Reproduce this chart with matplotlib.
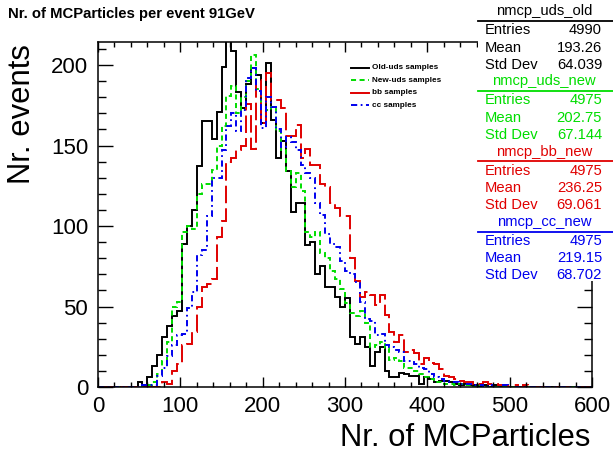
import numpy as np
import matplotlib
matplotlib.use("Agg")
import matplotlib.pyplot as plt
from matplotlib.lines import Line2D
from matplotlib.patches import Rectangle
from matplotlib.ticker import MultipleLocator

plt.rcParams['font.family'] = ['Liberation Sans', 'DejaVu Sans']

# ---- binning: 100 bins of 6 particles between 0 and 600 ----
bin_width = 6
bin_edges = np.arange(0, 600 + bin_width, bin_width)

# ---- per-bin event counts (first non-empty bin index + counts) ----
old_uds_first = 8
old_uds_counts = [3, 1, 6, 13, 20, 31, 38, 44, 47, 89, 100, 110, 137, 165, 165, 154, 171, 199,
                  216, 209, 183, 173, 188, 198, 194, 164, 201, 166, 142, 153, 134, 109, 114, 114,
                  88, 90, 70, 75, 62, 62, 56, 50, 55, 31, 27, 31, 25, 13, 22, 25, 10, 6, 6, 9, 8,
                  7, 7, 2, 6, 5, 3, 4, 4, 3, 2, 1, 2, 1, 1, 0, 1, 0, 1]

new_uds_first = 10
new_uds_counts = [1, 3, 8, 16, 28, 50, 53, 96, 100, 98, 120, 126, 126, 135, 150, 162, 181, 187,
                  170, 180, 190, 206, 185, 171, 172, 174, 159, 147, 134, 124, 133, 122, 96, 93,
                  96, 83, 80, 72, 67, 61, 52, 46, 44, 47, 40, 25, 26, 28, 24, 17, 18, 16, 12, 12,
                  10, 8, 6, 5, 3, 3, 2, 2, 1, 2, 1, 1, 0, 1]

bb_first = 13
bb_counts = [3, 2, 10, 14, 26, 27, 34, 50, 62, 64, 67, 93, 103, 140, 142, 147, 150, 176, 148,
             191, 164, 195, 178, 178, 173, 156, 156, 163, 142, 148, 138, 138, 126, 124, 114, 111,
             106, 106, 80, 66, 56, 59, 57, 51, 57, 45, 34, 28, 32, 22, 23, 21, 14, 18, 15, 14,
             11, 7, 6, 5, 4, 3, 3, 2, 2, 3, 2, 2, 1, 1, 0, 1, 0, 1]

cc_first = 9
cc_counts = [1, 1, 1, 7, 12, 19, 26, 32, 33, 49, 59, 82, 85, 106, 130, 130, 147, 162, 170, 159,
             172, 192, 198, 184, 161, 180, 174, 160, 149, 155, 152, 147, 138, 133, 130, 114, 107,
             95, 89, 87, 78, 72, 70, 65, 53, 42, 41, 32, 33, 26, 25, 23, 22, 16, 16, 14, 12, 11,
             8, 6, 5, 4, 3, 3, 2, 2, 2, 1, 1, 0, 1, 0, 0, 1]

legend_labels = ["Old-uds samples", "New-uds samples", "bb samples", "cc samples"]
hist_names = ["nmcp_uds_old", "nmcp_uds_new", "nmcp_bb_new", "nmcp_cc_new"]
stat_entries = ["4990", "4975", "4975", "4975"]
stat_means = ["193.26", "202.75", "236.25", "219.15"]
stat_stddevs = ["64.039", "67.144", "69.061", "68.702"]

x_ticks = [0, 100, 200, 300, 400, 500, 600]
y_ticks = [0, 50, 100, 150, 200]


def fill_bins(first, counts):
    h = np.zeros(len(bin_edges) - 1)
    h[first:first + len(counts)] = counts
    return h


series = [fill_bins(old_uds_first, old_uds_counts),
          fill_bins(new_uds_first, new_uds_counts),
          fill_bins(bb_first, bb_counts),
          fill_bins(cc_first, cc_counts)]

colors = ["#000000", "#00dd00", "#e00000", "#0000ee"]
styles = ["-", (0, (2.6, 1.8)), (0, (9.0, 2.6)), (0, (3.2, 1.8, 0.9, 1.8))]
legend_styles = ["-", (0, (2.6, 1.8)), "-", (0, (3.2, 1.8, 0.9, 1.8))]

W, H = 613, 454
fig = plt.figure(figsize=(W / 100, H / 100), dpi=100)
fig.patch.set_facecolor("white")


def fx(px):
    return px / W


def fy(py):
    return 1 - py / H


ax = fig.add_axes([fx(98), 1 - 387 / H, (592 - 98) / W, (387 - 42) / H])

for h, c, ls in zip(series, colors, styles):
    ax.stairs(h, bin_edges, color=c, linestyle=ls, linewidth=1.4, baseline=None)

ax.set_xlim(0, 600)
ax.set_ylim(0, 214.3)
ax.set_xticks(x_ticks)
ax.set_yticks(y_ticks)
ax.xaxis.set_minor_locator(MultipleLocator(20))
ax.yaxis.set_minor_locator(MultipleLocator(10))
ax.tick_params(axis="both", which="both", direction="in", top=True, right=True,
               width=1.0, color="black")
ax.tick_params(axis="x", which="major", length=7.5, pad=6.5, labelsize=16)
ax.tick_params(axis="x", which="minor", length=3.8)
ax.tick_params(axis="y", which="major", length=11, pad=7, labelsize=16)
ax.tick_params(axis="y", which="minor", length=5.8)
for sp in ax.spines.values():
    sp.set_linewidth(1.1)

# axis titles aligned to the axis ends
fig.text(fx(590), fy(438), "Nr. of MCParticles", ha="right", va="center", fontsize=22.3)
fig.text(fx(22), fy(44), "Nr. events", ha="center", va="top", rotation=90, fontsize=22.3)

# canvas title
fig.text(fx(8), fy(14), "Nr. of MCParticles per event 91GeV", ha="left", va="center",
         fontsize=10.7, fontweight="bold")

# legend
leg_rows = [67.7, 80.2, 92.7, 105.2]
for lab, c, ls, yy in zip(legend_labels, colors, legend_styles, leg_rows):
    fig.add_artist(Line2D([fx(351), fx(369)], [fy(yy), fy(yy)], color=c, linestyle=ls,
                          linewidth=1.4, transform=fig.transFigure))
    fig.text(fx(372), fy(yy), lab, ha="left", va="center", fontsize=5.9, fontweight="bold")

# statistics boxes
fig.add_artist(Rectangle((fx(478), fy(281)), fx(613) - fx(478), fy(0) - fy(281),
                         transform=fig.transFigure, facecolor="white", edgecolor="none",
                         zorder=5))
box_h = 70.2
for i, (name, c) in enumerate(zip(hist_names, colors)):
    top = i * box_h
    fig.text(fx(544), fy(top + 11.3), name, ha="center", va="center", fontsize=10.6,
             color=c, zorder=6)
    fig.add_artist(Line2D([fx(478), fx(613)], [fy(top + 20.9), fy(top + 20.9)], color=c,
                          linewidth=1.3, transform=fig.transFigure, zorder=6))
    rows = [("Entries", stat_entries[i]), ("Mean", stat_means[i]),
            ("Std Dev", stat_stddevs[i])]
    for j, (lab, val) in enumerate(rows):
        yy = top + 30.3 + j * 17.2
        fig.text(fx(485), fy(yy), lab, ha="left", va="center", fontsize=10.6, color=c,
                 zorder=6)
        fig.text(fx(602), fy(yy), val, ha="right", va="center", fontsize=10.6, color=c,
                 zorder=6)

fig.savefig("out.png", dpi=100, facecolor="white")
